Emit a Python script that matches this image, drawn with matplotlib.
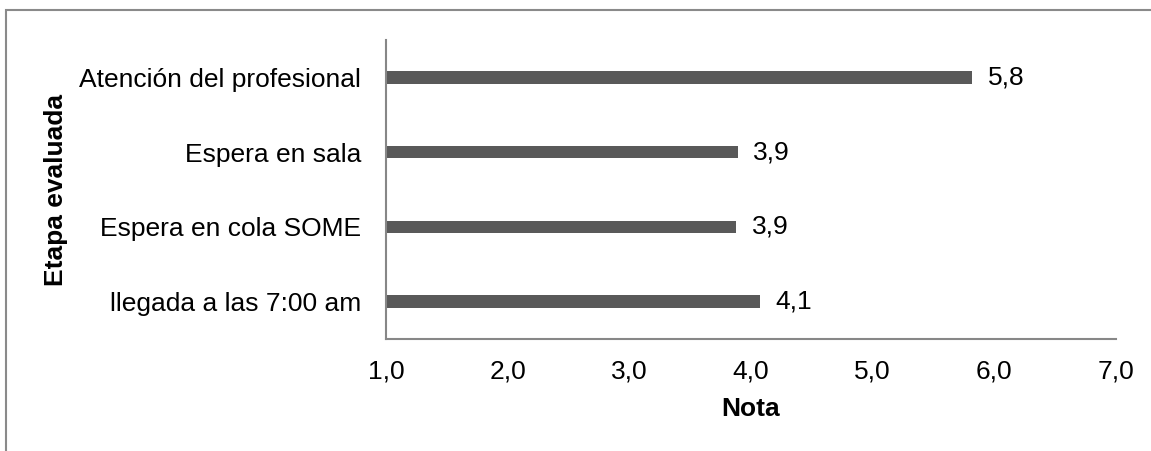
import matplotlib.pyplot as plt
from matplotlib.patches import Rectangle

plt.rcParams['font.family'] = ['Liberation Sans', 'DejaVu Sans']

# datos: nota promedio por etapa evaluada
etapas = ['llegada a las 7:00 am', 'Espera en cola SOME', 'Espera en sala',
          'Atención del profesional']
notas = [4.07, 3.88, 3.89, 5.82]
ticks_x = [1, 2, 3, 4, 5, 6, 7]

FS = 19

fig = plt.figure(figsize=(11.51, 4.51), dpi=100)
ax = fig.add_axes([0.3354, 0.2483, 0.6342, 0.663])

pos = range(len(etapas))
ax.barh(pos, notas, height=0.17, color='#595959', left=0)
for y, v in zip(pos, notas):
    ax.text(v + 0.13, y, f'{v:.1f}'.replace('.', ','), va='center', ha='left',
            fontsize=FS, color='black')

ax.set_xlim(1, 7)
ax.set_ylim(-0.5, len(etapas) - 0.5)
ax.set_xticks(ticks_x)
ax.set_xticklabels([f'{t:.1f}'.replace('.', ',') for t in ticks_x])
ax.set_yticks(list(pos))
ax.set_yticklabels(etapas)
ax.tick_params(axis='both', length=0, labelsize=FS, colors='black')
ax.tick_params(axis='y', pad=18)
ax.tick_params(axis='x', pad=15)

for s in ['top', 'right']:
    ax.spines[s].set_visible(False)
for s in ['left', 'bottom']:
    ax.spines[s].set_color('#878787')
    ax.spines[s].set_linewidth(1.5)

ax.set_xlabel('Nota', fontsize=FS, fontweight='bold', labelpad=9.5)
ax.set_ylabel('Etapa evaluada', fontsize=FS, fontweight='bold', va='center')
ax.yaxis.set_label_coords(-0.452, 0.5)

# borde del gráfico
fig.patches.append(Rectangle((6 / 1151, -0.1), 1.2, 1 - 10 / 451 + 0.1,
                             transform=fig.transFigure, fill=False,
                             edgecolor='#8a8a8a', linewidth=1.5))

fig.savefig('out.png', dpi=100)
